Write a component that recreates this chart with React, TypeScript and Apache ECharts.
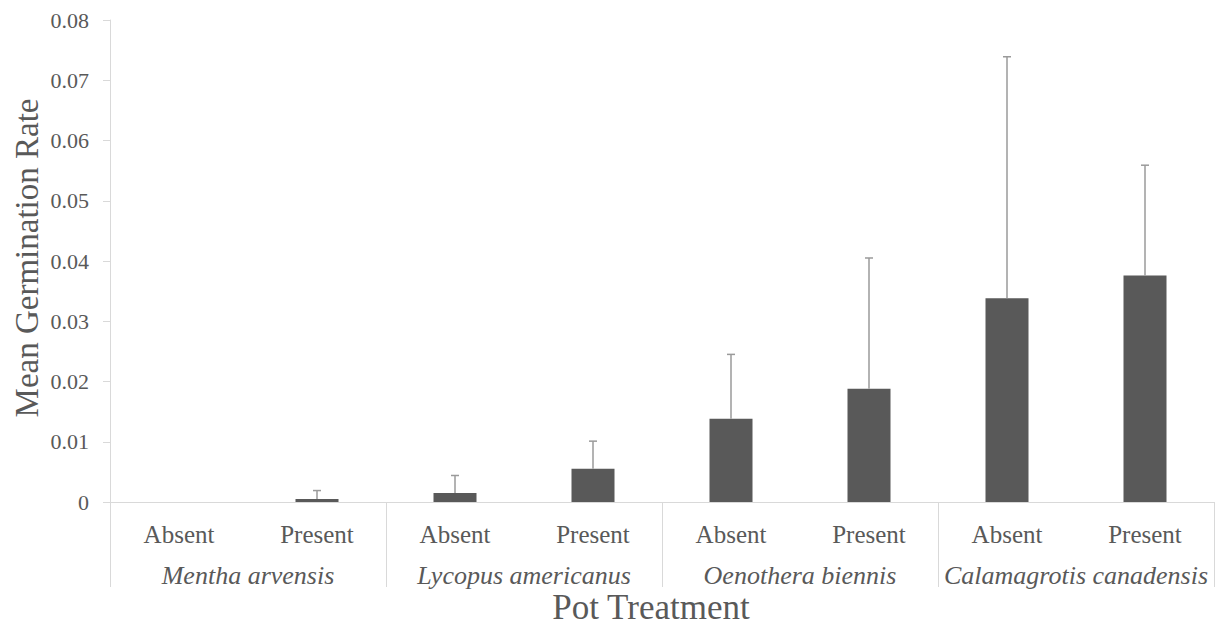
import React, { useEffect, useRef } from "react";
import * as echarts from "echarts";

// Germination results by pot treatment within each species
const species = ["Mentha arvensis", "Lycopus americanus", "Oenothera biennis", "Calamagrotis canadensis"];
const treatments = ["Absent", "Present"];
const meanRate = [0, 0.0005, 0.0015, 0.0055, 0.0138, 0.0188, 0.0338, 0.0376];
const stdError = [0, 0.0014, 0.0029, 0.0046, 0.0107, 0.0217, 0.0401, 0.0183];
const yTicks = { min: 0, max: 0.08, interval: 0.01 };

const categories = species.flatMap((s) => treatments.map((t) => `${s}|${t}`));

const FONT = "'Liberation Serif', 'Times New Roman', serif";
const TEXT = "#595959";
const RULE = "#d9d9d9";

export default function App() {
  const ref = useRef<HTMLDivElement>(null);

  useEffect(() => {
    if (!ref.current) return;
    const chart = echarts.init(ref.current, undefined, { renderer: "svg" });

    const errorData = meanRate.map((m, i) => [i, m, m + stdError[i]]);

    chart.setOption({
      animation: false,
      backgroundColor: "#ffffff",
      textStyle: { fontFamily: FONT, color: TEXT },
      grid: { left: 110, right: 7, top: 20, bottom: 124, containLabel: false },
      xAxis: [
        {
          type: "category",
          data: categories,
          boundaryGap: true,
          axisLine: { show: true, lineStyle: { color: RULE, width: 1 } },
          axisTick: { show: false },
          axisLabel: {
            interval: 0,
            margin: 20,
            fontSize: 25,
            fontFamily: FONT,
            color: TEXT,
            formatter: (v: string) => v.split("|")[1],
          },
        },
        {
          type: "category",
          data: species,
          position: "bottom",
          boundaryGap: true,
          axisLine: { show: false },
          axisTick: { show: true, length: 85, lineStyle: { color: RULE, width: 1 } },
          axisLabel: {
            interval: 0,
            margin: 60,
            fontSize: 26,
            fontStyle: "italic",
            fontFamily: FONT,
            color: TEXT,
          },
        },
      ],
      yAxis: {
        type: "value",
        min: yTicks.min,
        max: yTicks.max,
        interval: yTicks.interval,
        axisLine: { show: true, lineStyle: { color: RULE, width: 1 } },
        axisTick: { show: true, length: 7, lineStyle: { color: RULE, width: 1 } },
        splitLine: { show: false },
        axisLabel: {
          margin: 21,
          fontSize: 22,
          fontFamily: FONT,
          color: TEXT,
          formatter: (v: number) => (v === 0 ? "0" : v.toFixed(2)),
        },
      },
      graphic: [
        {
          type: "text",
          x: 27,
          y: 258,
          rotation: Math.PI / 2,
          style: {
            text: "Mean Germination Rate",
            fontSize: 33,
            fontFamily: FONT,
            fill: TEXT,
            align: "center",
            verticalAlign: "middle",
          },
        },
        {
          type: "text",
          x: 651,
          y: 607,
          style: {
            text: "Pot Treatment",
            fontSize: 35,
            fontFamily: FONT,
            fill: TEXT,
            align: "center",
            verticalAlign: "middle",
          },
        },
      ],
      series: [
        {
          type: "bar",
          xAxisIndex: 0,
          data: meanRate,
          barWidth: 43,
          itemStyle: { color: "#595959" },
        },
        {
          type: "custom",
          xAxisIndex: 0,
          data: errorData,
          z: 3,
          renderItem: (params: any, api: any) => {
            const i = api.value(0);
            const lo = api.value(1);
            const hi = api.value(2);
            if (hi <= lo) return { type: "group", children: [] };
            const base = api.coord([i, lo]);
            const top = api.coord([i, hi]);
            const style = { stroke: "#9a9a9a", lineWidth: 1.5 };
            return {
              type: "group",
              children: [
                { type: "line", shape: { x1: base[0], y1: base[1], x2: top[0], y2: top[1] }, style },
                { type: "line", shape: { x1: top[0] - 4, y1: top[1], x2: top[0] + 4, y2: top[1] }, style },
              ],
            };
          },
        },
      ],
    });

    return () => chart.dispose();
  }, []);

  return (
    <div
      ref={ref}
      style={{ position: "fixed", left: 0, top: 0, width: 1221, height: 626, background: "#fff" }}
    />
  );
}
